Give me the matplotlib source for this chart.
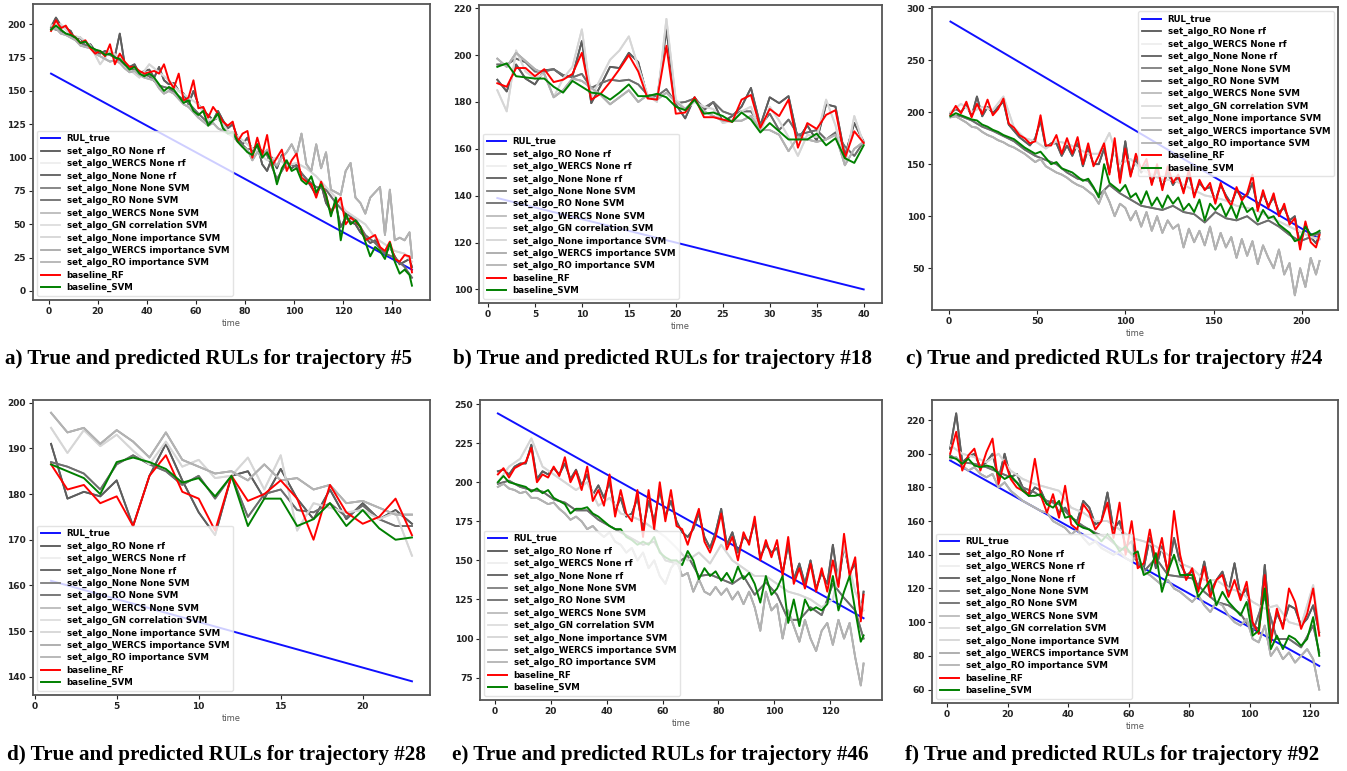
import matplotlib
matplotlib.use("Agg")
import matplotlib.pyplot as plt
from matplotlib.ticker import MultipleLocator

# Namen der Reihen in der Reihenfolge der Legende
reihen_namen = [
    "set_algo_RO None rf", "set_algo_WERCS None rf", "set_algo_None None rf",
    "set_algo_None None SVM", "set_algo_RO None SVM", "set_algo_WERCS None SVM",
    "set_algo_GN correlation SVM", "set_algo_None importance SVM",
    "set_algo_WERCS importance SVM", "set_algo_RO importance SVM",
]
# welche Grau-Kurve zu welchem Namen gehoert, und deren Farbe
reihen_kurve = ["dunkel", "blass", "dunkel", "mittel", "mittel",
                "niedrig", "blass", "blass", "niedrig", "niedrig"]
reihen_farbe = ["#555555", "#eeeeee", "#5e5e5e", "#7e7e7e", "#6e6e6e",
                "#bbbbbb", "#dddddd", "#d6d6d6", "#a9a9a9", "#b3b3b3"]

# ---------------- a) trajectory #5 ----------------
t_a = list(range(1, 148, 2)) + [148]
t_a_grob = list(range(1, 146, 4)) + [148]
rul_t_a = [1, 148]
rul_a = [163, 16]
rot_a = [195, 203, 197, 199, 193, 190, 186, 188, 182, 178,
         180, 176, 185, 170, 178, 172, 168, 168, 165, 163,
         164, 165, 163, 170, 158, 152, 163, 143, 145, 158,
         137, 138, 130, 138, 133, 127, 124, 127, 112, 118,
         120, 100, 115, 102, 117, 94, 100, 106, 90, 98,
         103, 85, 82, 80, 70, 82, 72, 58, 65, 70,
         50, 55, 52, 48, 38, 40, 42, 33, 30, 37,
         24, 22, 27, 26, 14]
gruen_a = [196, 199, 196, 193, 192, 190, 186, 187, 183, 181,
           180, 177, 178, 175, 174, 170, 166, 168, 163, 161,
           163, 160, 155, 150, 153, 151, 146, 141, 143, 135,
           132, 135, 124, 128, 133, 122, 118, 119, 112, 108,
           104, 102, 110, 100, 104, 96, 80, 92, 98, 90,
           92, 83, 80, 86, 74, 80, 72, 56, 70, 38,
           58, 50, 53, 48, 37, 26, 33, 30, 24, 36,
           22, 13, 16, 12, 4]
dunkel_a = [198, 205, 199, 197, 195, 188, 190, 183, 185, 180,
            178, 180, 178, 176, 193, 170, 168, 170, 163, 165,
            166, 160, 168, 158, 155, 156, 150, 148, 140, 150,
            140, 135, 132, 128, 135, 128, 122, 125, 115, 110,
            115, 105, 110, 95, 90, 100, 92, 102, 95, 92,
            95, 88, 84, 78, 72, 80, 66, 60, 65, 48,
            55, 52, 50, 44, 40, 36, 38, 32, 28, 33,
            26, 20, 22, 24, 18]
niedrig_a = [196, 197, 193, 192, 190, 188, 184, 183, 182, 178,
             176, 174, 172, 173, 171, 167, 164, 165, 162, 160,
             159, 158, 152, 148, 150, 148, 144, 140, 138, 134,
             130, 127, 124, 126, 122, 120, 118, 116, 112, 108,
             106, 98, 104, 100, 106, 98, 94, 100, 104, 110,
             102, 118, 95, 90, 110, 92, 104, 76, 74, 72,
             90, 96, 70, 66, 58, 70, 74, 78, 42, 76,
             38, 40, 38, 44, 25]
mittel_a = [197, 195, 191, 186, 183, 179, 177, 173, 167, 164,
            161, 154, 152, 146, 141, 133, 126, 130, 119, 113,
            106, 108, 102, 84, 96, 93, 84, 78, 76, 66,
            58, 54, 42, 36, 28, 25, 18, 10]
blass_a = [199, 200, 192, 190, 184, 170, 180, 175, 166, 160,
           170, 164, 158, 150, 145, 140, 128, 130, 120, 116,
           110, 104, 98, 100, 94, 96, 92, 86, 78, 70,
           60, 55, 50, 40, 35, 30, 28, 22]

# ---------------- b) trajectory #18 ----------------
t_b = list(range(1, 41))
rul_t_b = [1, 40]
rul_b = [139, 100]
rot_b = [188, 186.5, 194.5, 194.5, 191, 194, 188.5, 189.5, 192, 201,
         181, 183.5, 188.5, 194, 200, 193, 181.5, 181, 204, 175,
         175.5, 182, 173.5, 173.5, 172.5, 171.5, 181, 183, 169, 177,
         174, 181, 160.5, 171, 168.5, 174.5, 176.5, 156, 167.5, 162.5]
gruen_b = [195, 196.5, 191, 190.5, 190, 190, 186.5, 184, 189, 186.5,
           184, 183.5, 181, 184, 187.5, 182.5, 182.5, 183.5, 182, 178,
           176.5, 181, 175, 175.5, 174, 171.5, 175.5, 172.5, 167, 171,
           167.5, 164, 164, 164, 166.5, 161.5, 164.5, 156, 154, 161.5]
dunkel_b = [189.5, 184.5, 196, 190, 187.5, 193.5, 194, 191, 191, 206,
            179.5, 187, 195, 194.5, 201, 197, 182, 181, 211, 179,
            173, 182, 176.5, 180, 171.5, 174, 178, 186, 170, 182,
            179.5, 182.5, 164, 170, 163.5, 179, 178, 157, 171, 163]
mittel_b = [196, 196, 198.5, 197, 193, 193, 194, 191.5, 190.5, 192,
            186, 188, 189.5, 189, 189.5, 187.5, 183, 182.5, 185.5, 179.5,
            180, 181.5, 177.5, 180, 176, 174.5, 176, 176, 170, 175,
            168, 172.5, 166, 167, 168, 164, 167, 161, 157, 163]
niedrig_b = [198.5, 195, 201, 197.5, 194, 192, 182, 185, 190, 189,
             186, 183, 179, 182, 185, 180, 183, 181, 184, 180,
             177, 181, 176, 174, 172, 172, 172, 174, 168, 168,
             166, 159, 165, 164, 163, 164, 166, 153, 160, 163]
blass_b = [185, 176, 202, 193, 190, 192, 182, 190, 195, 211,
           182, 190, 198, 202, 208, 195, 183, 180, 215.5, 181,
           177, 180, 178, 177, 171, 172, 176, 178, 167, 178,
           172, 165, 157, 166, 165, 181, 170, 153, 174, 162]

# ---------------- c) trajectory #24 ----------------
t_c = list(range(1, 209, 3)) + [210]
t_c_grob = list(range(1, 206, 6)) + [210]
rul_t_c = [1, 210]
rul_c = [287, 78]
rot_c = [197, 206, 199, 210, 195, 208, 198, 212, 197, 203,
         213, 189, 185, 178, 175, 170, 172, 197, 168, 168,
         178, 160, 175, 160, 176, 150, 170, 148, 158, 170,
         140, 175, 132, 165, 138, 160, 145, 155, 130, 150,
         125, 148, 132, 140, 122, 145, 118, 135, 125, 132,
         112, 132, 118, 110, 128, 115, 122, 140, 105, 125,
         108, 122, 100, 112, 92, 98, 68, 95, 75, 70,
         82]
gruen_c = [196, 199, 197, 195, 193, 192, 188, 186, 183, 181,
           178, 176, 174, 170, 166, 163, 160, 162, 156, 150,
           152, 146, 144, 142, 138, 134, 136, 128, 118, 150,
           132, 128, 124, 130, 118, 122, 112, 124, 110, 118,
           108, 120, 112, 118, 106, 112, 104, 116, 96, 112,
           106, 112, 100, 110, 98, 114, 104, 108, 95, 106,
           98, 100, 92, 88, 84, 76, 78, 90, 82, 84,
           86]
dunkel_c = [199, 203, 200, 207, 196, 215, 196, 205, 199, 205,
            210, 188, 182, 176, 172, 168, 175, 192, 166, 170,
            170, 158, 168, 158, 170, 148, 165, 150, 150, 165,
            142, 170, 135, 172, 140, 155, 142, 150, 132, 145,
            128, 142, 130, 138, 124, 140, 120, 132, 126, 128,
            115, 130, 120, 112, 125, 118, 120, 132, 108, 122,
            110, 118, 104, 108, 96, 100, 72, 92, 80, 74,
            84]
niedrig_c = [195, 196, 193, 190, 186, 185, 181, 178, 176, 173,
             171, 168, 166, 163, 160, 156, 152, 155, 148, 145,
             142, 140, 137, 133, 130, 128, 124, 120, 112, 125,
             114, 100, 112, 108, 96, 105, 90, 104, 86, 100,
             84, 96, 88, 92, 70, 88, 75, 86, 72, 90,
             68, 84, 70, 80, 60, 78, 62, 76, 54, 72,
             60, 50, 68, 44, 55, 24, 50, 32, 60, 44,
             57]
mittel_c = [197, 196, 192, 186, 182, 177, 172, 164, 158, 154,
            150, 142, 136, 134, 120, 130, 122, 116, 110, 108,
            106, 110, 104, 102, 94, 104, 98, 96, 100, 92,
            96, 90, 82, 76, 80, 84]
blass_c = [200, 208, 200, 205, 202, 215, 185, 175, 172, 165,
           172, 170, 165, 160, 160, 180, 150, 155, 145, 140,
           135, 135, 130, 125, 120, 118, 115, 110, 108, 105,
           100, 95, 90, 85, 80, 78]

# ---------------- d) trajectory #28 ----------------
t_d = list(range(1, 24))
rul_t_d = [1, 23]
rul_d = [161, 139]
rot_d = [186.5, 181, 182, 178, 179.5, 173, 184, 188.5, 180.5, 179,
         172, 184, 178.5, 180, 183, 179, 170, 182, 176, 173.5,
         175, 179, 171]
gruen_d = [186.5, 185, 183.5, 180, 187, 188, 187, 185.5, 182.5, 183.5,
           179.5, 184, 173, 179, 179, 173, 174.5, 178, 173, 176.5,
           172.5, 170, 170.5]
dunkel_d = [191, 179, 180.5, 179.5, 183, 173, 184, 191, 183, 176,
            171, 184, 185, 179, 185.5, 179, 174.5, 181, 174.5, 178,
            174.5, 176.5, 173.5]
mittel_d = [187, 186, 184.5, 181, 186.5, 188.5, 186.5, 185, 182, 184,
            179, 184, 175, 180, 181, 176.5, 176, 178, 175, 177.5,
            174.5, 173, 173]
niedrig_d = [197.8, 193.5, 194.5, 191, 194, 191.5, 188, 193.5, 187.5, 186,
             184.5, 185, 183, 186.5, 183, 183.5, 181, 182, 178, 178.5,
             177, 175.5, 175.5]
blass_d = [194.5, 189, 194, 190.5, 193, 189.5, 186.5, 191.5, 186, 187.5,
           183.5, 184, 188, 181, 188.5, 172, 178, 177, 176, 176.5,
           174.5, 176, 166.5]

# ---------------- e) trajectory #46 ----------------
t_e = list(range(1, 132, 2)) + [132]
t_e_grob = list(range(1, 130, 4)) + [132]
rul_t_e = [1, 132]
rul_e = [244, 113]
rot_e = [205, 209, 203, 209, 211, 213, 222, 200, 205, 203,
         210, 204, 216, 200, 207, 195, 210, 188, 195, 185,
         205, 178, 195, 180, 175, 195, 165, 195, 170, 200,
         175, 195, 172, 170, 160, 172, 183, 162, 155, 165,
         180, 157, 165, 150, 168, 160, 178, 150, 163, 152,
         163, 140, 165, 135, 145, 132, 148, 130, 145, 130,
         150, 133, 167, 140, 152, 111, 128]
gruen_e = [200, 204, 200, 199, 198, 197, 194, 196, 193, 195,
           190, 188, 186, 180, 183, 183, 184, 180, 178, 175,
           172, 170, 170, 165, 163, 160, 162, 160, 165, 155,
           152, 150, 150, 147, 156, 150, 138, 145, 140, 143,
           137, 142, 136, 146, 138, 142, 135, 123, 140, 128,
           132, 140, 110, 125, 108, 125, 118, 120, 118, 122,
           140, 118, 130, 140, 118, 98, 102]
dunkel_e = [207, 208, 205, 210, 212, 212, 224, 202, 207, 205,
            209, 205, 212, 202, 208, 198, 205, 192, 198, 190,
            200, 182, 190, 178, 180, 190, 170, 188, 175, 195,
            178, 188, 175, 168, 165, 170, 180, 165, 158, 168,
            183, 160, 168, 155, 165, 162, 175, 152, 160, 155,
            158, 142, 160, 138, 148, 135, 150, 132, 142, 135,
            160, 135, 160, 142, 148, 115, 130]
niedrig_e = [197, 199, 196, 195, 193, 194, 190, 190, 188, 186,
             187, 183, 180, 176, 178, 175, 170, 172, 168, 165,
             168, 162, 160, 155, 158, 150, 155, 145, 150, 140,
             135, 145, 150, 140, 142, 130, 138, 130, 128, 133,
             128, 132, 125, 130, 122, 130, 120, 105, 130, 118,
             122, 100, 118, 108, 98, 112, 100, 92, 105, 110,
             96, 112, 100, 110, 88, 70, 84]
mittel_e = [199, 201, 197, 195, 194, 189, 187, 182, 182, 176,
            172, 168, 164, 160, 162, 150, 148, 153, 140, 141,
            138, 135, 140, 128, 136, 128, 112, 112, 120, 115,
            135, 126, 118, 100]
blass_e = [200, 210, 215, 228, 210, 205, 200, 195, 200, 185,
           190, 180, 178, 175, 170, 165, 158, 150, 155, 148,
           160, 150, 145, 140, 140, 135, 130, 128, 125, 120,
           125, 160, 130, 118]

# ---------------- f) trajectory #92 ----------------
t_f = list(range(1, 124, 2))
t_f_grob = list(range(1, 122, 4)) + [123]
rul_t_f = [1, 123]
rul_f = [196, 74]
rot_f = [200, 213, 190, 199, 203, 190, 201, 209, 182, 196,
         185, 180, 178, 176, 197, 175, 165, 176, 162, 181,
         158, 155, 170, 165, 155, 160, 171, 150, 171, 140,
         160, 132, 135, 155, 135, 150, 128, 166, 140, 125,
         132, 118, 133, 115, 125, 128, 115, 125, 113, 124,
         100, 93, 128, 88, 108, 96, 120, 112, 96, 105,
         120, 92]
gruen_f = [198, 197, 194, 197, 193, 192, 193, 192, 188, 185,
           187, 183, 178, 175, 175, 176, 170, 168, 172, 162,
           163, 158, 156, 155, 152, 148, 152, 148, 142, 145,
           140, 142, 128, 130, 141, 118, 130, 140, 128, 128,
           128, 115, 120, 125, 110, 118, 112, 108, 104, 112,
           92, 95, 120, 84, 92, 84, 92, 90, 86, 90,
           103, 80]
dunkel_f = [203, 224, 195, 198, 200, 192, 195, 200, 185, 200,
            186, 188, 180, 175, 180, 178, 170, 172, 165, 168,
            162, 160, 172, 168, 158, 160, 177, 155, 160, 145,
            148, 135, 132, 150, 132, 145, 130, 150, 135, 128,
            130, 120, 136, 118, 125, 130, 118, 135, 115, 120,
            98, 96, 134, 92, 105, 98, 110, 108, 98, 102,
            110, 94]
niedrig_f = [197, 198, 193, 190, 192, 188, 186, 188, 180, 183,
             178, 175, 172, 170, 168, 166, 165, 160, 158, 156,
             152, 155, 150, 146, 148, 144, 142, 140, 142, 138,
             136, 140, 130, 128, 125, 122, 125, 120, 118, 115,
             112, 116, 110, 106, 112, 110, 104, 100, 98, 102,
             90, 88, 98, 80, 85, 78, 82, 76, 80, 84,
             78, 60]
mittel_f = [199, 195, 194, 192, 189, 186, 180, 177, 172, 170,
            162, 157, 153, 150, 144, 141, 130, 138, 128, 127,
            126, 118, 112, 110, 105, 94, 115, 90, 90, 85,
            98, 82]
blass_f = [205, 200, 198, 195, 200, 190, 185, 182, 180, 178,
           168, 165, 160, 160, 155, 150, 148, 145, 140, 135,
           132, 125, 125, 120, 118, 112, 108, 110, 100, 98,
           122, 95]


# Zeichnet ein einzelnes Panel mit allen Kurven und der Legende.
def zeichne_panel(ax, p):
    ax.plot(p["rul_t"], p["rul"], color="#1010ff", lw=1.4, label="RUL_true")
    for name, kurve, farbe in zip(reihen_namen, reihen_kurve, reihen_farbe):
        t, werte = p[kurve]
        ax.plot(t, werte, color=farbe, lw=1.3, label=name)
    ax.plot(p["t"], p["rot"], color="#ff0000", lw=1.4, label="baseline_RF")
    ax.plot(p["t"], p["gruen"], color="#008000", lw=1.4, label="baseline_SVM")

    ax.set_xlim(p["xlim"])
    ax.set_ylim(p["ylim"])
    ax.xaxis.set_major_locator(MultipleLocator(p["xstep"]))
    ax.yaxis.set_major_locator(MultipleLocator(p["ystep"]))
    ax.tick_params(labelsize=6.5, length=3, width=0.8, pad=2, colors="#222222")
    for lbl in ax.get_xticklabels() + ax.get_yticklabels():
        lbl.set_fontweight("bold")
    for s in ax.spines.values():
        s.set_color("#555555")
        s.set_linewidth(1.3)
    ax.set_xlabel("time", fontsize=6, color="#555555", labelpad=2)
    ax.legend(loc=p["loc"], prop={"size": 6.2, "weight": "bold"},
              labelspacing=0.38, handlelength=2.2, borderpad=0.4,
              framealpha=0.8, edgecolor="#dddddd", fancybox=True)


def main():
    fig = plt.figure(figsize=(13.47, 7.71), dpi=100)
    W, H = 1347.0, 771.0

    panels = [
        dict(box=(33, 4, 430, 300), t=t_a, rot=rot_a, gruen=gruen_a,
             dunkel=(t_a, dunkel_a), niedrig=(t_a, niedrig_a),
             mittel=(t_a_grob, mittel_a), blass=(t_a_grob, blass_a),
             rul_t=rul_t_a, rul=rul_a, xlim=(-6.35, 155.35), ylim=(-6.75, 215.2),
             xstep=20, ystep=25, loc="lower left",
             titel="a) True and predicted RULs for trajectory #5", tx=5, ty=359),
        dict(box=(479, 5, 882, 303), t=t_b, rot=rot_b, gruen=gruen_b,
             dunkel=(t_b, dunkel_b), niedrig=(t_b, niedrig_b),
             mittel=(t_b, mittel_b), blass=(t_b, blass_b),
             rul_t=rul_t_b, rul=rul_b, xlim=(-0.95, 41.95), ylim=(94.2, 221.4),
             xstep=5, ystep=20, loc="lower left",
             titel="b) True and predicted RULs for trajectory #18", tx=453, ty=359),
        dict(box=(932, 7, 1338, 310), t=t_c, rot=rot_c, gruen=gruen_c,
             dunkel=(t_c, dunkel_c), niedrig=(t_c, niedrig_c),
             mittel=(t_c_grob, mittel_c), blass=(t_c_grob, blass_c),
             rul_t=rul_t_c, rul=rul_c, xlim=(-9.45, 220.45), ylim=(9.9, 301),
             xstep=50, ystep=50, loc="upper right",
             titel="c) True and predicted RULs for trajectory #24", tx=906, ty=359),
        dict(box=(33, 400, 430, 695), t=t_d, rot=rot_d, gruen=gruen_d,
             dunkel=(t_d, dunkel_d), niedrig=(t_d, niedrig_d),
             mittel=(t_d, mittel_d), blass=(t_d, blass_d),
             rul_t=rul_t_d, rul=rul_d, xlim=(-0.1, 24.1), ylim=(136, 200.6),
             xstep=5, ystep=10, loc="lower left",
             titel="d) True and predicted RULs for trajectory #28", tx=7, ty=755),
        dict(box=(480, 400, 882, 700), t=t_e, rot=rot_e, gruen=gruen_e,
             dunkel=(t_e, dunkel_e), niedrig=(t_e, niedrig_e),
             mittel=(t_e_grob, mittel_e), blass=(t_e_grob, blass_e),
             rul_t=rul_t_e, rul=rul_e, xlim=(-5.4, 138.6), ylim=(60.7, 252.6),
             xstep=20, ystep=25, loc="lower left",
             titel="e) True and predicted RULs for trajectory #46", tx=452, ty=755),
        dict(box=(932, 400, 1338, 703), t=t_f, rot=rot_f, gruen=gruen_f,
             dunkel=(t_f, dunkel_f), niedrig=(t_f, niedrig_f),
             mittel=(t_f_grob, mittel_f), blass=(t_f_grob, blass_f),
             rul_t=rul_t_f, rul=rul_f, xlim=(-5.0, 129.2), ylim=(52, 231.9),
             xstep=20, ystep=20, loc="lower left",
             titel="f) True and predicted RULs for trajectory #92", tx=905, ty=755),
    ]

    for p in panels:
        x0, y0, x1, y1 = p["box"]
        ax = fig.add_axes([x0 / W, 1 - y1 / H, (x1 - x0) / W, (y1 - y0) / H])
        zeichne_panel(ax, p)
        fig.text(p["tx"] / W, 1 - p["ty"] / H, p["titel"], ha="left", va="center",
                 fontsize=15.2, fontweight="bold", family="Liberation Serif")

    fig.savefig("out.png", dpi=100)


if __name__ == "__main__":
    main()
